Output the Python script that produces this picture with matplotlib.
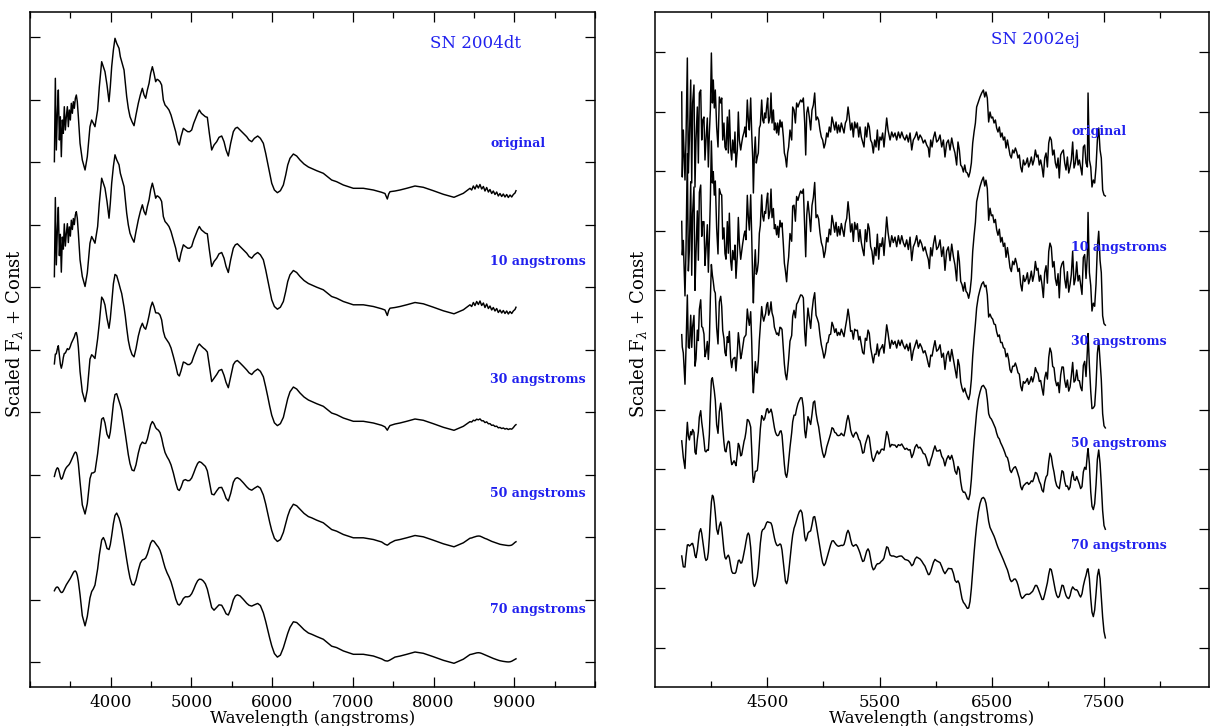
import numpy as np
import matplotlib.pyplot as plt
from matplotlib.ticker import MultipleLocator, FixedLocator

plt.rcParams['font.family'] = 'DejaVu Serif'
plt.rcParams['mathtext.fontset'] = 'dejavuserif'

# SN 2004dt, original spectrum (angstroms, scaled flux)
wave_04dt = np.array([
    3302, 3314, 3326, 3339, 3351, 3364, 3376, 3388, 3401, 3413,
    3425, 3438, 3450, 3463, 3475, 3487, 3500, 3512, 3525, 3537,
    3549, 3562, 3574, 3586, 3599, 3620, 3648, 3682, 3710, 3743,
    3764, 3785, 3805, 3838, 3859, 3888, 3909, 3929, 3954, 3979,
    3995, 4012, 4033, 4053, 4074, 4103, 4119, 4136, 4165, 4181,
    4198, 4218, 4239, 4264, 4289, 4313, 4342, 4367, 4392, 4413,
    4433, 4454, 4475, 4495, 4516, 4536, 4557, 4574, 4590, 4611,
    4631, 4652, 4673, 4698, 4722, 4747, 4776, 4805, 4830, 4850,
    4871, 4900, 4925, 4954, 4978, 5003, 5028, 5053, 5077, 5098,
    5123, 5148, 5173, 5197, 5222, 5251, 5280, 5313, 5342, 5375,
    5404, 5429, 5457, 5486, 5519, 5544, 5569, 5602, 5643, 5685,
    5714, 5747, 5780, 5821, 5854, 5891, 5920, 5945, 5970, 5995,
    6028, 6065, 6102, 6139, 6168, 6193, 6221, 6263, 6304, 6345,
    6395, 6449, 6490, 6552, 6634, 6737, 6799, 6882, 7006, 7130,
    7254, 7357, 7398, 7427, 7444, 7460, 7522, 7584, 7667, 7770,
    7873, 7997, 8121, 8253, 8369, 8451, 8472, 8493, 8513, 8534,
    8555, 8575, 8596, 8617, 8637, 8658, 8679, 8699, 8720, 8740,
    8761, 8782, 8802, 8823, 8844, 8864, 8885, 8906, 8926, 8947,
    8968, 8988, 9009, 9021])
flux_04dt = np.array([
    38.3, 121.7, 50.0, 86.7, 110.0, 60.0, 83.3, 43.3, 80.0, 66.7,
    93.3, 70.0, 83.3, 93.3, 73.3, 90.0, 80.0, 96.7, 86.7, 98.3,
    91.7, 101.7, 105.0, 98.3, 83.3, 56.7, 40.0, 30.0, 43.3, 73.3,
    80.0, 76.7, 73.3, 90.0, 113.3, 138.3, 133.3, 128.3, 115.0, 98.3,
    113.3, 133.3, 150.0, 161.7, 156.7, 151.7, 143.3, 138.3, 130.0, 116.7,
    103.3, 91.7, 83.3, 78.3, 74.3, 85.0, 96.7, 105.0, 111.7, 105.0,
    101.7, 110.0, 116.7, 126.7, 133.3, 126.7, 118.3, 120.7, 120.0, 118.3,
    115.0, 100.0, 95.0, 92.7, 90.0, 85.0, 76.7, 68.3, 58.3, 55.0,
    63.3, 71.7, 70.0, 68.3, 68.3, 70.0, 76.7, 81.7, 86.7, 90.0,
    86.7, 85.0, 83.3, 82.7, 66.7, 50.0, 55.0, 58.3, 62.7, 64.0,
    58.3, 50.0, 44.0, 56.7, 68.3, 71.7, 72.7, 70.0, 66.7, 63.3,
    60.0, 58.3, 61.7, 64.0, 61.7, 56.7, 46.7, 36.7, 26.7, 16.7,
    10.0, 7.3, 9.3, 15.0, 25.0, 35.0, 41.7, 46.0, 44.0, 40.0,
    36.0, 33.0, 31.5, 29.3, 26.7, 20.0, 18.3, 15.0, 11.7, 11.7,
    10.0, 7.7, 6.5, 1.0, 6.0, 8.3, 9.0, 10.0, 11.7, 14.0,
    12.7, 9.3, 5.7, 2.7, 6.7, 11.7, 10.0, 14.0, 11.0, 15.0,
    12.0, 15.5, 11.0, 13.5, 9.0, 12.5, 8.0, 10.5, 6.5, 9.0,
    5.5, 8.0, 4.0, 6.5, 3.5, 6.0, 3.0, 5.5, 2.5, 5.0,
    3.0, 5.5, 7.0, 9.3])

# SN 2002ej, original spectrum
wave_02ej = np.array([
    3738, 3743, 3752, 3767, 3776, 3788, 3797, 3806, 3818, 3827,
    3835, 3847, 3856, 3865, 3877, 3886, 3895, 3907, 3916, 3925,
    3936, 3945, 3954, 3966, 3975, 3984, 3993, 4002, 4011, 4019,
    4028, 4037, 4049, 4061, 4073, 4085, 4094, 4103, 4114, 4123,
    4132, 4144, 4153, 4162, 4174, 4183, 4192, 4204, 4212, 4221,
    4233, 4242, 4251, 4263, 4272, 4281, 4293, 4301, 4310, 4322,
    4331, 4340, 4352, 4361, 4370, 4376, 4385, 4393, 4402, 4411,
    4420, 4429, 4438, 4450, 4459, 4468, 4477, 4485, 4494, 4503,
    4512, 4524, 4533, 4542, 4554, 4563, 4572, 4583, 4592, 4601,
    4613, 4622, 4631, 4643, 4652, 4661, 4672, 4681, 4690, 4702,
    4717, 4726, 4738, 4750, 4761, 4773, 4785, 4797, 4809, 4821,
    4833, 4842, 4851, 4862, 4874, 4886, 4898, 4910, 4922, 4934,
    4946, 4957, 4969, 4981, 4993, 5005, 5017, 5029, 5040, 5052,
    5064, 5076, 5088, 5100, 5112, 5124, 5135, 5147, 5159, 5171,
    5183, 5195, 5207, 5219, 5230, 5242, 5254, 5266, 5278, 5290,
    5302, 5314, 5325, 5337, 5349, 5361, 5373, 5385, 5397, 5408,
    5420, 5432, 5444, 5456, 5468, 5480, 5492, 5503, 5515, 5527,
    5539, 5551, 5563, 5575,
    5593, 5608, 5622, 5637, 5652, 5667, 5682, 5697, 5711, 5726,
    5741, 5756, 5771, 5786, 5800, 5815, 5830, 5845, 5860, 5875,
    5889, 5904, 5919, 5934, 5943, 5955, 5967, 5979, 5993, 6008,
    6023, 6038, 6053, 6068, 6082, 6097, 6112, 6127, 6142, 6157,
    6171, 6186, 6198, 6210, 6222, 6234, 6246, 6258, 6269, 6281,
    6293, 6305, 6317, 6329, 6341, 6353, 6364, 6379, 6394, 6409,
    6424, 6436, 6447, 6459, 6471, 6483, 6495, 6507, 6519, 6531,
    6542, 6554, 6566, 6578, 6590, 6602, 6614, 6626, 6638, 6649,
    6661, 6673, 6685, 6697, 6709, 6721, 6732, 6744, 6756, 6768,
    6780, 6792, 6804, 6816, 6827, 6839, 6851, 6863, 6875, 6887,
    6899, 6910, 6922, 6934, 6946, 6958, 6970, 6982, 6994, 7006,
    7017, 7029, 7041, 7053, 7065, 7077, 7089, 7100, 7112, 7124,
    7136, 7148, 7160, 7172, 7184, 7196, 7207, 7219, 7231, 7243,
    7255, 7267, 7279, 7290, 7302, 7314, 7326, 7338, 7350, 7356,
    7368, 7380, 7391, 7403, 7415, 7427, 7439, 7451, 7463, 7474,
    7486, 7498, 7510])
flux_02ej = np.array([
    156, 71, 118, 68, 108, 190, 75, 108, 168, 65,
    145, 163, 61, 108, 141, 85, 155, 158, 108, 128,
    131, 88, 108, 130, 81, 115, 138, 195, 145, 168,
    140, 158, 121, 101, 151, 145, 150, 108, 125, 101,
    98, 131, 95, 138, 98, 88, 108, 95, 116, 81,
    98, 136, 108, 98, 105, 111, 116, 121, 111, 148,
    128, 118, 150, 115, 90, 55, 95, 111, 85, 91,
    95, 120, 123, 148, 128, 125, 135, 130, 141, 150,
    125, 131, 155, 125, 138, 118, 125, 115, 125, 113,
    128, 121, 126, 111, 95, 91, 81, 95, 101, 118,
    108, 141, 138, 125, 145, 141, 145, 148, 146, 150,
    125, 93, 135, 141, 131, 118, 138, 143, 155, 128,
    131, 128, 118, 111, 108, 100, 105, 115, 111, 121,
    116, 131, 125, 118, 126, 115, 123, 116, 125, 120,
    115, 125, 128, 141, 131, 118, 125, 111, 126, 120,
    125, 111, 121, 111, 106, 101, 121, 111, 125, 121,
    108, 105, 95, 108, 101, 118, 98, 111, 108, 115,
    101, 116, 130, 118,
    108, 116, 111, 115, 108, 116, 110, 116, 111, 108,
    113, 106, 115, 98, 108, 111, 116, 108, 113, 110,
    105, 108, 103, 100, 91, 108, 101, 110, 116, 106,
    108, 113, 101, 108, 91, 105, 108, 98, 110, 101,
    95, 83, 106, 98, 83, 81, 76, 83, 76, 75,
    71, 76, 85, 105, 116, 125, 141, 146, 151, 155,
    158, 151, 156, 150, 126, 136, 130, 131, 125, 128,
    120, 116, 121, 111, 115, 108, 111, 100, 108, 101,
    93, 90, 98, 95, 100, 96, 90, 93, 81, 76,
    88, 83, 85, 90, 81, 85, 91, 83, 88, 98,
    91, 93, 83, 88, 81, 71, 90, 95, 81, 105,
    111, 108, 93, 98, 85, 80, 90, 70, 93, 96,
    98, 85, 78, 91, 75, 81, 88, 106, 80, 85,
    98, 83, 88, 81, 73, 101, 103, 85, 81, 155,
    88, 81, 61, 68, 65, 81, 108, 120, 98, 90,
    58, 53, 52], dtype=float)

labels = ['original', '10 angstroms', '30 angstroms', '50 angstroms', '70 angstroms']
widths = [0, 10, 30, 50, 70]

offsets_04dt = [462, 345.5, 229, 112.5, -4]
offsets_02ej = [400, 250, 147, 45, -66]
gain_02ej = [1.0, 1.4, 1.4, 1.4, 1.4]
label_y_04dt = [519, 401, 283, 168, 53]
label_y_02ej = [516, 400, 307, 204, 103]

# kernel sigma in angstroms (2004dt: width taken as FWHM)
sigma_04dt = [w / 2.355 for w in widths]
sigma_02ej = [0, 4.5, 7, 10.5, 15]


def smooth(wave, flux, sigma):
    if sigma == 0:
        return flux
    d = (wave[:, None] - wave[None, :]) / sigma
    w = np.exp(-0.5 * d * d)
    return w @ flux / w.sum(axis=1)


fig = plt.figure(figsize=(12.1, 7.26), dpi=100)
ax1 = fig.add_axes([30 / 1210, 39 / 726, 565 / 1210, 675 / 726])
ax2 = fig.add_axes([655 / 1210, 39 / 726, 554 / 1210, 675 / 726])

for k in range(5):
    y = smooth(wave_04dt, flux_04dt, sigma_04dt[k]) + offsets_04dt[k]
    ax1.plot(wave_04dt, y, color='black', lw=1.05)
    ax1.text(8700, label_y_04dt[k], labels[k], color='#2020ee', fontsize=9,
             fontweight='bold', va='center')

    y = gain_02ej[k] * smooth(wave_02ej, flux_02ej, sigma_02ej[k]) + offsets_02ej[k]
    ax2.plot(wave_02ej, y, color='black', lw=1.05)
    ax2.text(7205, label_y_02ej[k], labels[k], color='#2020ee', fontsize=9,
             fontweight='bold', va='center')

ax1.text(8514, 619, 'SN 2004dt', color='#2020ee', fontsize=12, ha='center', va='center')
ax2.text(6884, 608, 'SN 2002ej', color='#2020ee', fontsize=12, ha='center', va='center')

ax1.set_xlim(3000, 10000)
ax1.set_ylim(-25, 650)
ax1.xaxis.set_major_locator(FixedLocator([4000, 5000, 6000, 7000, 8000, 9000]))
ax1.xaxis.set_minor_locator(MultipleLocator(500))
ax1.yaxis.set_major_locator(MultipleLocator(62.5))

ax2.set_xlim(3500, 8433)
ax2.set_ylim(-39, 636)
ax2.xaxis.set_major_locator(FixedLocator([4500, 5500, 6500, 7500]))
ax2.xaxis.set_minor_locator(FixedLocator([4000, 5000, 6000, 7000, 8000]))
ax2.yaxis.set_major_locator(MultipleLocator(59.6))

for ax in (ax1, ax2):
    ax.tick_params(which='both', direction='in', top=True, right=True,
                   labelleft=False, width=0.9)
    ax.tick_params(which='major', length=7, labelsize=12, pad=5)
    ax.tick_params(which='minor', length=4.5)
    for s in ax.spines.values():
        s.set_linewidth(1.1)
    ax.set_xlabel('Wavelength (angstroms)', fontsize=12, labelpad=-1)
    ax.set_ylabel(r'Scaled F$_\lambda$ + Const', fontsize=13)

ax1.yaxis.set_label_coords(-0.008, 0.524)
ax2.yaxis.set_label_coords(-0.011, 0.524)

fig.savefig('out.png', dpi=100)
